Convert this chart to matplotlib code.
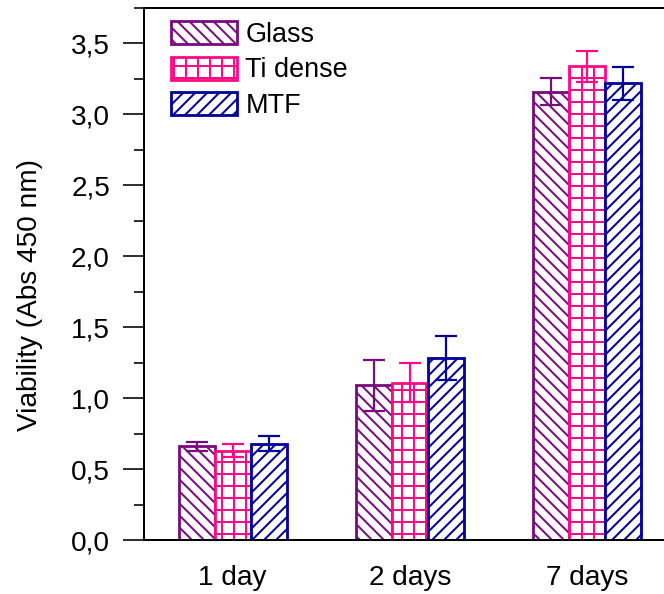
import numpy as np
import matplotlib.pyplot as plt
from matplotlib.ticker import MultipleLocator

# cell viability, three surfaces over three time points
days = ["1 day", "2 days", "7 days"]
glass = [0.66, 1.09, 3.16]
glass_err = [0.03, 0.18, 0.095]
ti_dense = [0.63, 1.11, 3.34]
ti_dense_err = [0.045, 0.14, 0.11]
mtf = [0.68, 1.28, 3.22]
mtf_err = [0.055, 0.155, 0.115]

yticks = [0.0, 0.5, 1.0, 1.5, 2.0, 2.5, 3.0, 3.5]
ytick_labels = ["0,0", "0,5", "1,0", "1,5", "2,0", "2,5", "3,0", "3,5"]

plt.rcParams['font.family'] = ['Liberation Sans', 'DejaVu Sans']
plt.rcParams['hatch.linewidth'] = 2.0

W, H = 664, 594
fig = plt.figure(figsize=(W / 72, H / 72), dpi=72)
ax = fig.add_axes([144 / W, 54 / H, (675.5 - 144) / W, 532 / H])

x = np.arange(1, len(days) + 1)
bw = 0.2034
series = [
    ("Glass", glass, glass_err, "#7a0a80", "\\\\"),
    ("Ti dense", ti_dense, ti_dense_err, "#ff0a85", "+"),
    ("MTF", mtf, mtf_err, "#00009c", "//"),
]

handles = []
for i, (name, vals, errs, col, hatch) in enumerate(series):
    pos = x + (i - 1) * bw
    b = ax.bar(pos, vals, bw, facecolor="white", edgecolor=col, hatch=hatch,
               linewidth=2.8, label=name, zorder=2)
    ax.errorbar(pos, vals, yerr=errs, fmt="none", ecolor=col, elinewidth=2.2,
                capsize=11, capthick=2.2, zorder=3)
    handles.append(b)

ax.set_xlim(0.5, 3.5)
ax.set_ylim(0, 3.75)
ax.set_xticks(x)
ax.set_xticklabels(days)
ax.set_yticks(yticks)
ax.set_yticklabels(ytick_labels)
ax.yaxis.set_minor_locator(MultipleLocator(0.25))

ax.tick_params(axis="x", length=0, pad=25, labelsize=28)
ax.tick_params(axis="y", which="major", direction="out", length=21, width=1.6,
               pad=13, labelsize=28)
ax.tick_params(axis="y", which="minor", direction="out", length=10, width=1.6)

for s in ax.spines.values():
    s.set_linewidth(2.0)
ax.spines["right"].set_visible(False)

ax.set_ylabel("Viability (Abs 450 nm)", fontsize=28)
ax.yaxis.set_label_coords(-0.19, 0.46)

leg = ax.legend(handles=handles, loc="upper left",
                bbox_to_anchor=(171 / W, 1 - 21 / H), bbox_transform=fig.transFigure,
                frameon=False, fontsize=27, handlelength=2.45, handleheight=0.95,
                handletextpad=0.3, labelspacing=0.32, borderpad=0, borderaxespad=0)

fig.savefig("out.png", dpi=72)
